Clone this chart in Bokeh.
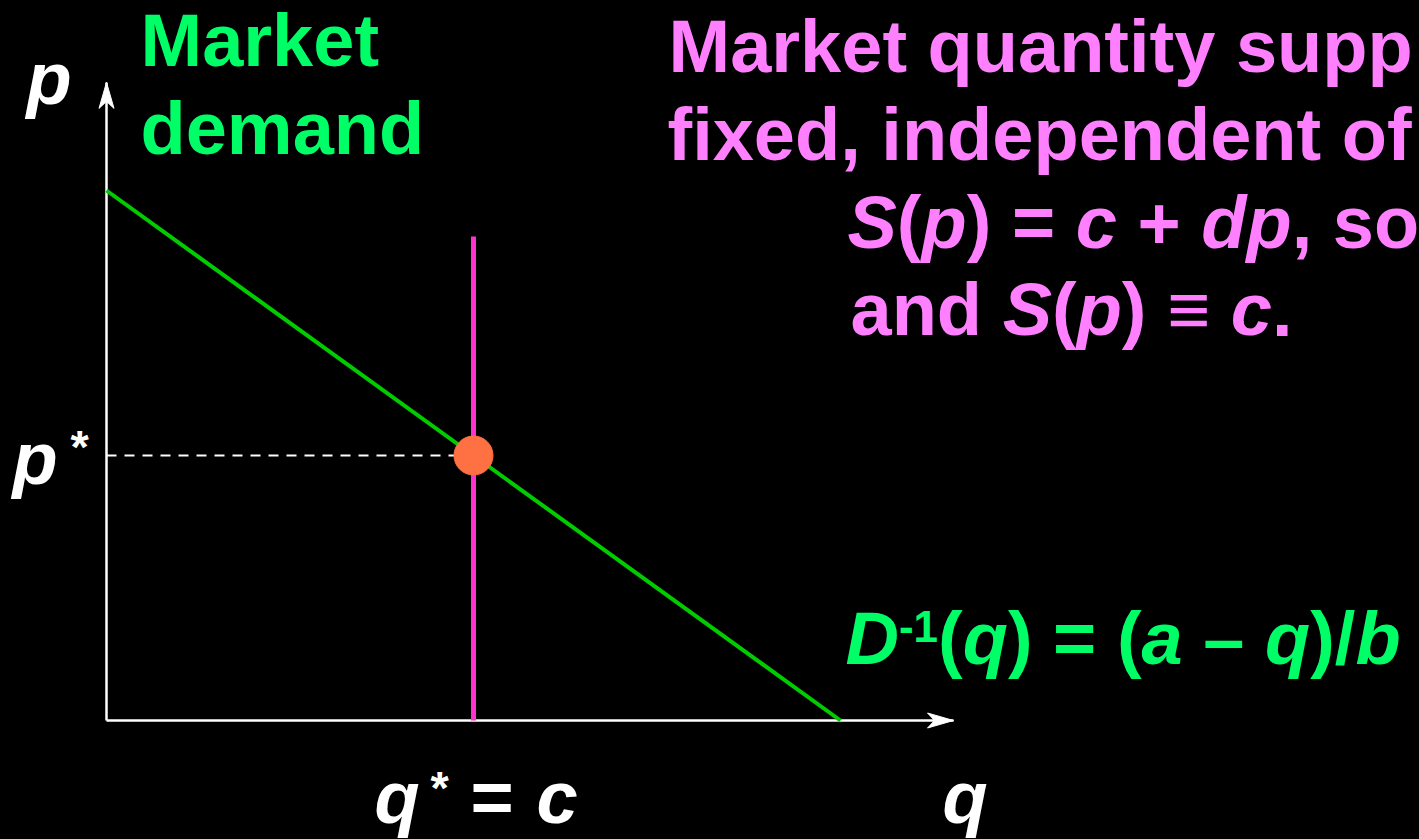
from bokeh.plotting import figure
from bokeh.models import Range1d, Label
from bokeh.embed import file_html
from bokeh.resources import INLINE

# ---------------- data ----------------
q_demand = [0, 10]          # inverse demand D^-1(q) = (a - q)/b, a = 10, b = 1
p_demand = [10, 0]
supply_q = [5, 5]           # fixed supply S(p) = c, c = 5
supply_p = [0, 9.13]
q_star = [5]
p_star = [5]
q_axis_max = 11.54
p_axis_max = 12.04

# ---------------- layout helpers (page px -> data) ----------------
W_FIG, H_FIG = 1419, 839
OX, OY = 106.0, 720.0       # page px of origin
SX, SY = 73.4, 53.0         # px per unit
BASE_K = 0.32               # empirical baseline correction (fraction of font size)


def X(px):
    return (px - OX) / SX


def Y(py):
    return (OY - py) / SY


p = figure(width=W_FIG, height=H_FIG, output_backend="svg", toolbar_location=None,
           x_range=Range1d(X(0), X(W_FIG)), y_range=Range1d(Y(H_FIG), Y(0)),
           min_border=0, background_fill_color="black", border_fill_color="black",
           outline_line_color=None)
p.xaxis.visible = False
p.yaxis.visible = False
p.grid.visible = False

WHITE = "#FFFFFF"
GREEN_LINE = "#00CC00"
GREEN_TXT = "#00FF66"
PINK_LINE = "#FF33CC"
PINK_TXT = "#FF80FF"
DOT = "#FF7043"

# axes
p.line([0, q_axis_max], [0, 0], line_color=WHITE, line_width=2.5)
p.line([0, 0], [0, p_axis_max], line_color=WHITE, line_width=2.5)
L, Wd, N = 26.0, 15.0, 19.0
p.patch([q_axis_max, q_axis_max - L / SX, q_axis_max - N / SX, q_axis_max - L / SX],
        [0, Wd / 2 / SY, 0, -Wd / 2 / SY], fill_color=WHITE, line_color=WHITE, line_width=1)
p.patch([0, Wd / 2 / SX, 0, -Wd / 2 / SX],
        [p_axis_max, p_axis_max - L / SY, p_axis_max - N / SY, p_axis_max - L / SY],
        fill_color=WHITE, line_color=WHITE, line_width=1)

# demand and supply
p.line(q_demand, p_demand, line_color=GREEN_LINE, line_width=4)
p.line(supply_q, supply_p, line_color=PINK_LINE, line_width=5)
p.line([0, q_star[0]], [p_star[0], p_star[0]], line_color=WHITE, line_width=2.2,
       line_dash="10 8")
p.scatter(q_star, p_star, size=39, fill_color=DOT, line_color=DOT)

# ---------------- text ----------------
FONT = "Liberation Sans"
WID = {' ': 278, '(': 333, ')': 333, '=': 584, '+': 584, ',': 278, '.': 278, '/': 278,
       '\u2013': 556, '\u2261': 584, '-': 333, '1': 556, '*': 389,
       'a': 556, 'b': 611, 'c': 556, 'd': 611, 'e': 556, 'f': 333, 'i': 278, 'k': 556,
       'm': 889, 'n': 611, 'o': 611, 'p': 611, 'q': 611, 'r': 389, 's': 556, 't': 333,
       'u': 611, 'x': 556, 'y': 556, 'S': 667, 'D': 722, 'M': 833}


def width(s, size):
    return sum(WID.get(ch, 556) for ch in s) * size / 1000.0


def put(text, px, py, size, style, color):
    stripped = text.lstrip(" ")
    px = px + width(text[:len(text) - len(stripped)], size)
    stripped = stripped.rstrip(" ")
    if not stripped:
        return
    p.add_layout(Label(x=X(px), y=Y(py - BASE_K * size), text=stripped, text_font=FONT,
                       text_font_size=f"{size}px", text_font_style=style,
                       text_color=color, text_align="left", text_baseline="alphabetic"))


def run(pieces, px, py, size, color):
    x = px
    for text, style in pieces:
        put(text, x, py, size, style, color)
        x += width(text, size)
    return x


B, BI = "bold", "bold italic"
FS = 74
FS_SUP = 44
FS_STAR = 47

# green "Market demand"
put("Market", 140, 64, FS, B, GREEN_TXT)
put("demand", 140, 152, FS, B, GREEN_TXT)

# pink block
put("Market quantity supp", 668, 70, FS, B, PINK_TXT)
put("fixed, independent of", 667, 158, FS, B, PINK_TXT)
run([("S", BI), ("(", B), ("p", BI), (") = ", B), ("c", BI), (" + ", B), ("dp", BI),
     (", so", B)], 847, 246, FS, PINK_TXT)
run([("and ", B), ("S", BI), ("(", B), ("p", BI), (") \u2261 ", B), ("c", BI), (".", B)],
    850, 333, FS, PINK_TXT)

# inverse demand formula
x0 = 845
put("D", x0, 662, FS, BI, GREEN_TXT)
x1 = x0 + width("D", FS)
put("-1", x1, 640, FS_SUP, B, GREEN_TXT)
x2 = x1 + width("-1", FS_SUP)
run([("(", B), ("q", BI), (") = (", B), ("a", BI), (" \u2013 ", B), ("q", BI), (")/", B),
     ("b", BI)], x2, 662, FS, GREEN_TXT)

# axis labels
put("p", 26, 102, FS, BI, WHITE)
put("p", 12, 482, FS, BI, WHITE)
put("*", 70, 461, FS_STAR, B, WHITE)
put("q", 374, 821, FS, BI, WHITE)
put("*", 430, 802, FS_STAR, B, WHITE)
put("=", 470, 821, FS, B, WHITE)
put("c", 536, 821, FS, BI, WHITE)
put("q", 942, 821, FS, BI, WHITE)

html = file_html(p, INLINE)
html = html.replace("</head>", "<style>html,body{background:#000000;}</style></head>", 1)
open("out.html", "w").write(html)
